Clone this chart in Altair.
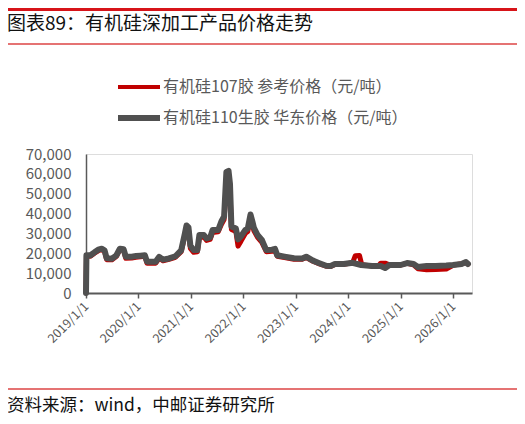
import altair as alt
import pandas as pd

# ---- data ----
name_107 = "有机硅107胶 参考价格（元/吨）"
name_110 = "有机硅110生胶 华东价格（元/吨）"

dates_110 = [
    "2019-01-01", "2019-01-04", "2019-02-01", "2019-03-01", "2019-04-01", "2019-04-20",
    "2019-05-10", "2019-05-25", "2019-07-01", "2019-08-01", "2019-08-25", "2019-09-20",
    "2019-10-05", "2019-11-15", "2019-12-15", "2020-01-15", "2020-02-15", "2020-03-01",
    "2020-05-01", "2020-05-25", "2020-06-20", "2020-08-01", "2020-09-15", "2020-10-25",
    "2020-11-20", "2020-12-01", "2020-12-15", "2020-12-28", "2021-01-20", "2021-02-15",
    "2021-03-01", "2021-04-01", "2021-04-20", "2021-05-15", "2021-06-01", "2021-07-10",
    "2021-08-01", "2021-08-20", "2021-09-05", "2021-09-20", "2021-09-30", "2021-10-10",
    "2021-11-10", "2021-11-25", "2021-12-15", "2022-01-15", "2022-02-01", "2022-02-20",
    "2022-03-05", "2022-03-15", "2022-04-10", "2022-05-10", "2022-06-10", "2022-07-20",
    "2022-08-10", "2022-08-25", "2022-10-15", "2022-12-20", "2023-02-15", "2023-03-15",
    "2023-05-01", "2023-06-15", "2023-08-01", "2023-09-01", "2023-10-01", "2023-12-01",
    "2024-02-01", "2024-04-01", "2024-06-15", "2024-08-15", "2024-09-15", "2024-10-15",
    "2024-12-31", "2025-02-15", "2025-04-01", "2025-05-01", "2025-07-01", "2025-09-01",
    "2025-11-15", "2026-01-01", "2026-03-01", "2026-04-01", "2026-04-15",
]
values_110 = [
    0, 19000, 19000, 20500, 22000, 22300,
    21500, 17500, 17300, 19000, 22300, 22000,
    18300, 18300, 18600, 18800, 19000, 15800,
    15800, 18200, 16800, 17400, 18500, 21500,
    30000, 34000, 33000, 24000, 21600, 21600,
    29200, 29200, 27500, 28000, 31700, 31700,
    36000, 38500, 61000, 61500, 55000, 33500,
    32500, 27000, 28500, 31700, 32500, 39500,
    36000, 33000, 29200, 26700, 21600, 21800,
    22200, 19000, 18300, 17500, 17400, 18300,
    16300, 15000, 13700, 13600, 14600, 14600,
    15200, 14100, 13600, 13600, 12600, 14100,
    14100, 15100, 14600, 13100, 13600, 13600,
    13800, 14100, 14600, 15600, 14600,
]

dates_107 = [
    "2019-01-01", "2019-01-04", "2019-02-01", "2019-03-01", "2019-04-01", "2019-04-20",
    "2019-05-10", "2019-05-25", "2019-07-01", "2019-08-01", "2019-08-25", "2019-09-20",
    "2019-10-05", "2019-11-15", "2019-12-15", "2020-01-15", "2020-02-15", "2020-03-01",
    "2020-05-01", "2020-05-25", "2020-06-20", "2020-08-01", "2020-09-15", "2020-10-25",
    "2020-11-20", "2020-12-01", "2020-12-15", "2020-12-28", "2021-01-20", "2021-02-15",
    "2021-03-01", "2021-04-01", "2021-04-20", "2021-05-15", "2021-06-01", "2021-07-10",
    "2021-08-01", "2021-08-20", "2021-09-05", "2021-09-20", "2021-09-30", "2021-10-10",
    "2021-11-10", "2021-11-25", "2021-12-15", "2022-01-15", "2022-02-01", "2022-02-20",
    "2022-03-05", "2022-03-15", "2022-04-10", "2022-05-10", "2022-06-10", "2022-07-20",
    "2022-08-10", "2022-08-25", "2022-10-15", "2022-12-20", "2023-02-15", "2023-03-15",
    "2023-05-01", "2023-06-15", "2023-08-01", "2023-09-01", "2023-10-01", "2023-12-01",
    "2024-02-01", "2024-02-20", "2024-03-20", "2024-04-05", "2024-06-15", "2024-08-01",
    "2024-08-15", "2024-09-15", "2024-10-15", "2024-12-31", "2025-02-15", "2025-04-01",
    "2025-05-01", "2025-07-01", "2025-09-01", "2025-11-15", "2026-01-01", "2026-03-01",
    "2026-04-01", "2026-04-15",
]
values_107 = [
    0, 18500, 18500, 20000, 21500, 21800,
    21000, 16800, 16700, 18500, 21800, 21500,
    17500, 17600, 18000, 18200, 18500, 15000,
    15000, 17600, 16200, 17000, 18000, 20800,
    29000, 33000, 32000, 22500, 20500, 20800,
    28000, 28200, 26500, 27000, 30500, 30800,
    34500, 37000, 55000, 58000, 52000, 32000,
    31000, 23600, 26000, 30000, 31000, 38000,
    34500, 31500, 28000, 25500, 20800, 21000,
    21500, 18500, 17800, 17000, 17000, 17800,
    16000, 14700, 13500, 13400, 14400, 14500,
    15200, 18800, 18900, 14300, 13600, 13800,
    15000, 15000, 14200, 14000, 15000, 14200,
    12200, 11700, 11800, 12100, 14000, 14800,
    15300, 14600,
]

year_ticks = ["2019-01-01", "2020-01-01", "2021-01-01", "2022-01-01",
              "2023-01-01", "2024-01-01", "2025-01-01", "2026-01-01"]
y_ticks = [0, 10000, 20000, 30000, 40000, 50000, 60000, 70000]

title_text = "图表89：有机硅深加工产品价格走势"
source_text = "资料来源：wind，中邮证券研究所"

RED = "#C00000"
GRAY = "#505050"
LABEL = "#595959"
FONT = "Noto Sans CJK SC"

df = pd.concat([
    pd.DataFrame({"date": dates_107, "price": values_107, "series": name_107}),
    pd.DataFrame({"date": dates_110, "price": values_110, "series": name_110}),
], ignore_index=True)

W, H = 386, 139

base = alt.Chart(df)

lines = base.mark_line(strokeJoin="round", strokeCap="round").encode(
    x=alt.X("date:T",
            scale=alt.Scale(domain=["2019-01-01", "2026-05-13"]),
            axis=alt.Axis(values=year_ticks, format="%Y/%-m/%-d", labelAngle=-45,
                          labelAlign="right", labelBaseline="middle",
                          labelFontSize=12.5, labelColor=LABEL, labelFont=FONT,
                          labelPadding=6, labelOverlap=False,
                          domainColor=LABEL, domainWidth=2, tickColor=LABEL,
                          tickSize=5, tickWidth=1.5, grid=False, title=None)),
    y=alt.Y("price:Q",
            scale=alt.Scale(domain=[0, 70000], nice=False),
            axis=alt.Axis(values=y_ticks, format=",.0f", labelFontSize=15,
                          labelColor=LABEL, labelFont=FONT, labelPadding=15,
                          ticks=False, domainColor=LABEL, domainWidth=1.5,
                          grid=False, title=None)),
    color=alt.Color("series:N", scale=alt.Scale(domain=[name_107, name_110], range=[RED, GRAY]),
                    legend=None),
    strokeWidth=alt.StrokeWidth("series:N",
                                scale=alt.Scale(domain=[name_107, name_110], range=[5, 6]),
                                legend=None),
    order=alt.Order("date:T"),
)

def rule(y, color, width, x0=-78, x1=432):
    return alt.Chart(df).mark_rule(color=color, strokeWidth=width).encode(
        x=alt.value(x0), x2=alt.value(x1), y=alt.value(y))

def text(t, x, y, size, color, align="left"):
    return alt.Chart(pd.DataFrame({"t": [t]})).mark_text(
        align=align, baseline="middle", font=FONT, fontSize=size, color=color
    ).encode(text="t:N", x=alt.value(x), y=alt.value(y))

top_rule = rule(-144.5, "#D7141A", 2.5)
mid_rule = rule(-110, "#E57373", 1.5)
bot_rule = rule(235, "#E57373", 1.5)

title = text(title_text, -79, -130, 19, "#111111")
source = text(source_text, -79, 252, 17.5, "#111111")

leg1_line = rule(-67, RED, 4, 32, 74)
leg2_line = rule(-36, GRAY, 5, 32, 74)
leg1_text = text(name_107, 77, -67, 16, LABEL)
leg2_text = text(name_110, 77, -36, 16, LABEL)

chart = alt.layer(
    top_rule, mid_rule, bot_rule, title, source,
    leg1_line, leg2_line, leg1_text, leg2_text, lines
).properties(
    width=W, height=H,
    autosize=alt.AutoSizeParams(type="none"),
    padding={"left": 78, "top": 146, "right": 45, "bottom": 123},
).configure_view(stroke=None, clip=False).configure(background="white")

chart.save("out.html", embed_options={"renderer": "svg", "actions": False})
